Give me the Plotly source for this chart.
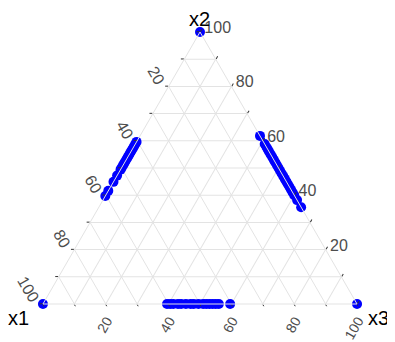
import plotly.graph_objects as go

# left edge points (x3 = 0), x2 values
left_x2 = [59.6, 58.8, 58.0, 57.2, 56.4, 55.6, 54.8, 54.0, 53.2, 52.4, 51.6, 50.8, 50.0, 49.4, 47.2, 44.9, 41.6, 39.7]
# right edge points (x1 = 0), x2 values
right_x2 = [61.8, 58.8, 57.6, 56.8, 56.0, 55.0, 54.0, 53.0, 52.0, 51.0, 50.0, 49.0, 48.0, 47.0,
            46.0, 45.0, 44.0, 43.0, 42.0, 41.0, 40.0, 38.2, 35.6]
# bottom edge points (x2 = 0), x3 values
bottom_x3 = [39.5, 40.5, 41.5, 43.0, 44.0, 45.5, 47.0, 48.0, 49.5, 51.0, 52.0, 53.0, 54.0, 55.0, 56.0, 59.6]

x1 = [0, 100, 0] + [100 - v for v in left_x2] + [0] * len(right_x2) + [100 - v for v in bottom_x3]
x2 = [100, 0, 0] + left_x2 + right_x2 + [0] * len(bottom_x3)
x3 = [0, 0, 100] + [0] * len(left_x2) + [100 - v for v in right_x2] + bottom_x3

# grid every 10, labels every 20; labels read clockwise round the triangle
tick_vals = list(range(0, 101, 10))
tick_text = [str(100 - v) if (100 - v) % 20 == 0 and v < 100 else "" for v in tick_vals]

fig = go.Figure(go.Scatterternary(
    a=x2, b=x1, c=x3, mode="markers",
    marker={"color": "#0000ff", "size": 10},
    cliponaxis=False, showlegend=False,
))

axis_style = {
    "tickvals": tick_vals, "ticktext": tick_text,
    "gridcolor": "#e3e3e3", "linecolor": "#e3e3e3",
    "ticks": "outside", "ticklen": 3, "tickcolor": "#333",
    "tickfont": {"size": 16, "color": "#4d4d4d"},
    "min": 0, "title": {"text": ""},
}

fig.update_layout(
    width=395, height=342,
    paper_bgcolor="white",
    font={"family": "Arial, Liberation Sans, sans-serif"},
    margin={"l": 34, "r": 45, "t": 24, "b": 46},
    ternary={
        "bgcolor": "white",
        "sum": 100,
        "aaxis": {**axis_style, "tickangle": 60},
        "baxis": {**axis_style, "tickangle": -60, "ticklen": 2,
                  "tickfont": {"size": 14, "color": "#4d4d4d"}},
        "caxis": axis_style,
    },
)

# corner titles
for text, x, y in [("x2", 0.497, 1.048), ("x1", -0.073, -0.050), ("x3", 1.066, -0.050)]:
    fig.add_annotation(text=text, x=x, y=y, xref="paper", yref="paper",
                       xanchor="center", yanchor="middle",
                       showarrow=False, font={"size": 20, "color": "black"})

fig.write_html("out.html")
